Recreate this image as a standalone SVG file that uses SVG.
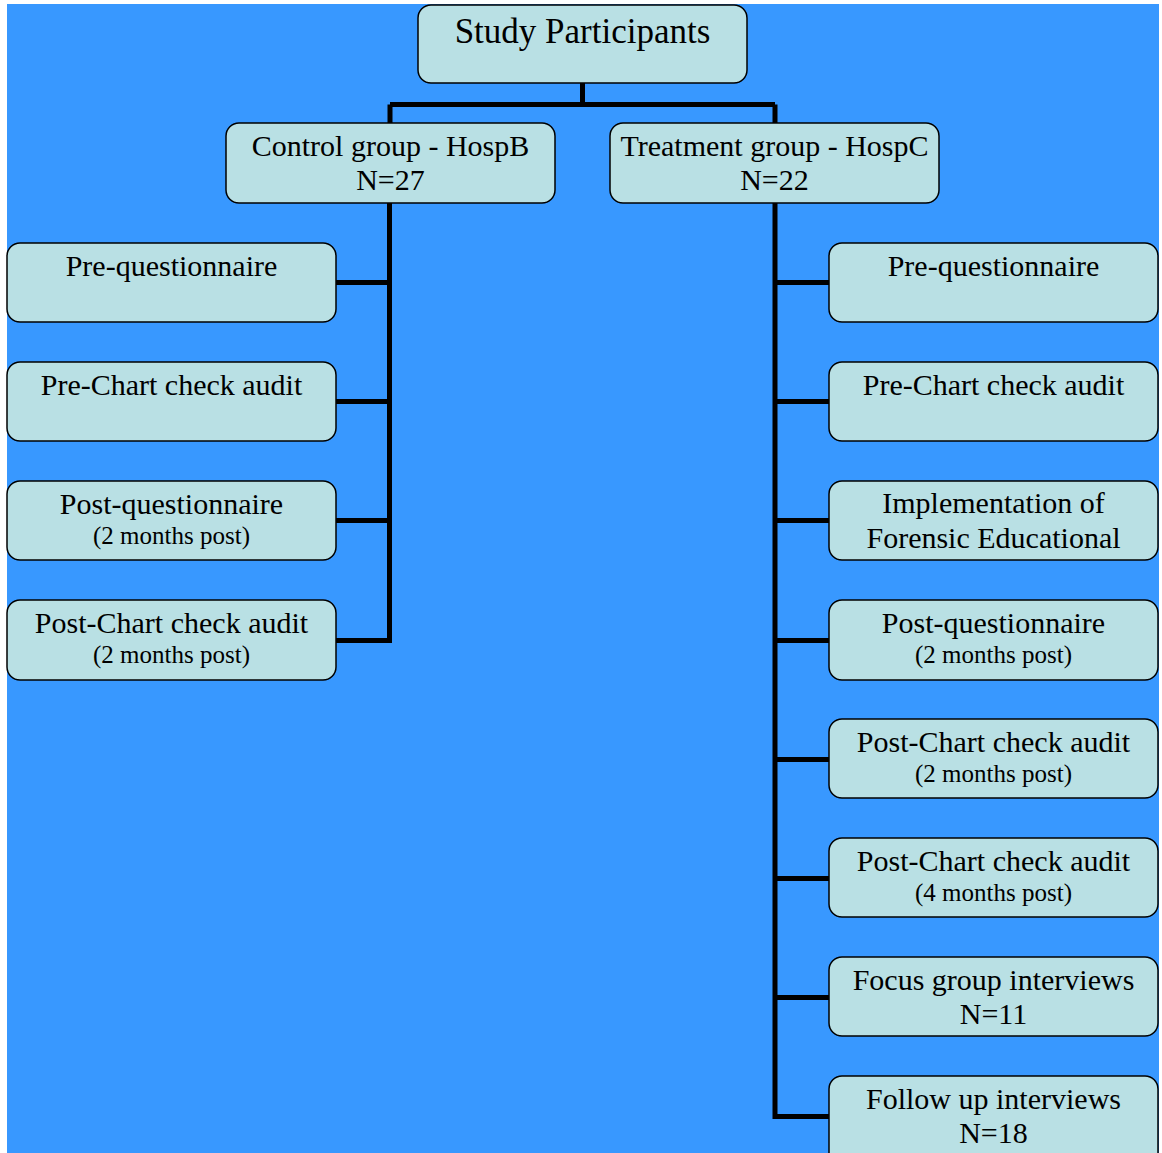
<svg xmlns="http://www.w3.org/2000/svg" width="1162" height="1153" viewBox="0 0 1162 1153">
<style>
.box{fill:#B9E0E4;stroke:#000;stroke-width:1.5}
.t{font-family:"Liberation Serif","Times New Roman",serif;fill:#000;text-anchor:middle}
.big{font-size:30px}
.sm{font-size:25px}
.title{font-size:35px}
.c{fill:none;stroke:#000;stroke-width:5}
</style>
<rect x="0" y="0" width="1162" height="1153" fill="#fff"/>
<rect x="7" y="4" width="1152" height="1149" fill="#3898FF"/>
<g id="connectors">
<path class="c" d="M582.5 83V104.5M390 104.5H775M390 104.5V123M775 104.5V123"/>
<path class="c" d="M389.5 203V640.5M336 282.5H389.5M336 401.5H389.5M336 520.5H389.5M336 640.5H392"/>
<path class="c" d="M775 203V1116.5M772.5 282.5H829M772.5 401.5H829M772.5 520.5H829M772.5 640.5H829M772.5 759.5H829M772.5 878.5H829M772.5 997.5H829M772.5 1116.5H829"/>
</g>
<g id="n_study"><rect class="box" x="418" y="5" width="329" height="78" rx="13"/><text class="t title" x="582.5" y="43">Study Participants</text></g>
<g id="n_control"><rect class="box" x="226" y="123" width="329" height="80" rx="13"/><text class="t big" x="390.5" y="156">Control group - HospB</text><text class="t big" x="390.5" y="190">N=27</text></g>
<g id="n_treat"><rect class="box" x="610" y="123" width="329" height="80" rx="13"/><text class="t big" x="774.5" y="156">Treatment group - HospC</text><text class="t big" x="774.5" y="190">N=22</text></g>
<g id="l1"><rect class="box" x="7" y="243" width="329" height="79" rx="13"/><text class="t big" x="171.5" y="276">Pre-questionnaire</text></g>
<g id="l2"><rect class="box" x="7" y="362" width="329" height="79" rx="13"/><text class="t big" x="171.5" y="395">Pre-Chart check audit</text></g>
<g id="l3"><rect class="box" x="7" y="481" width="329" height="79" rx="13"/><text class="t big" x="171.5" y="514">Post-questionnaire</text><text class="t sm" x="171.5" y="544">(2 months post)</text></g>
<g id="l4"><rect class="box" x="7" y="600" width="329" height="80" rx="13"/><text class="t big" x="171.5" y="633">Post-Chart check audit</text><text class="t sm" x="171.5" y="663">(2 months post)</text></g>
<g id="r1"><rect class="box" x="829" y="243" width="329" height="79" rx="13"/><text class="t big" x="993.5" y="276">Pre-questionnaire</text></g>
<g id="r2"><rect class="box" x="829" y="362" width="329" height="79" rx="13"/><text class="t big" x="993.5" y="395">Pre-Chart check audit</text></g>
<g id="r3"><rect class="box" x="829" y="481" width="329" height="79" rx="13"/><text class="t big" x="993.5" y="513">Implementation of</text><text class="t big" x="993.5" y="548">Forensic Educational</text></g>
<g id="r4"><rect class="box" x="829" y="600" width="329" height="80" rx="13"/><text class="t big" x="993.5" y="633">Post-questionnaire</text><text class="t sm" x="993.5" y="663">(2 months post)</text></g>
<g id="r5"><rect class="box" x="829" y="719" width="329" height="79" rx="13"/><text class="t big" x="993.5" y="752">Post-Chart check audit</text><text class="t sm" x="993.5" y="782">(2 months post)</text></g>
<g id="r6"><rect class="box" x="829" y="838" width="329" height="79" rx="13"/><text class="t big" x="993.5" y="871">Post-Chart check audit</text><text class="t sm" x="993.5" y="901">(4 months post)</text></g>
<g id="r7"><rect class="box" x="829" y="957" width="329" height="79" rx="13"/><text class="t big" x="993.5" y="990">Focus group interviews</text><text class="t big" x="993.5" y="1024">N=11</text></g>
<g id="r8"><rect class="box" x="829" y="1076" width="329" height="90" rx="13"/><text class="t big" x="993.5" y="1109">Follow up interviews</text><text class="t big" x="993.5" y="1143">N=18</text></g>
</svg>
